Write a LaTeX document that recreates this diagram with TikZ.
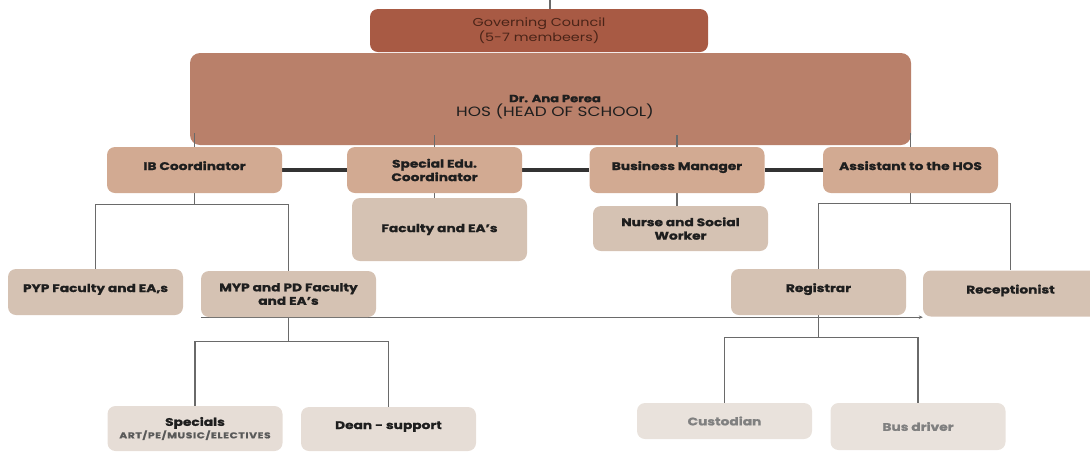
\documentclass[tikz,border=0pt]{standalone}
\usepackage{fontspec}
\setmainfont{Poppins}[FakeStretch=1.25, BoldFeatures={FakeBold=1.2}]
\usetikzlibrary{arrows.meta,backgrounds}
\definecolor{gcfill}{HTML}{A85A44}
\definecolor{hosfill}{HTML}{B9806A}
\definecolor{rowtwo}{HTML}{D2AA92}
\definecolor{rowthree}{HTML}{D5C2B3}
\definecolor{rowfour}{HTML}{E6DDD6}
\definecolor{rowfive}{HTML}{E9E2DC}
\definecolor{txtdark}{HTML}{1E1E1E}
\definecolor{gctext}{HTML}{4A2418}
\definecolor{linegrey}{HTML}{6A6A6A}
\definecolor{thickline}{HTML}{333333}
\tikzset{
  box/.style={rounded corners=8pt, draw=none, align=center, inner sep=2pt,
    font=\bfseries\fontsize{11}{13.5}\selectfont, text=txtdark},
  boxtwo/.style={box, fill=rowtwo, minimum width=175pt, minimum height=46pt},
  boxthree/.style={box, fill=rowthree, minimum width=175pt},
  boxfour/.style={box, fill=rowfour, minimum width=175pt},
  boxfive/.style={box, fill=rowfive, minimum width=175pt, text=black!50},
  conn/.style={draw=linegrey, line width=1.1pt},
  bar/.style={draw=thickline, line width=3.8pt}
}
\begin{document}
\begin{tikzpicture}[x=1pt,y=-1pt]
\useasboundingbox (0,0) rectangle (1090,451);
% top row
\node[box, fill=gcfill, minimum width=338pt, minimum height=43pt,
  font=\fontsize{11.5}{15}\selectfont, text=gctext] (gc) at (539,30.5)
  {Governing Council\\(5-7 membeers)};
\node[box, fill=hosfill, minimum width=721pt, minimum height=92pt, rounded corners=10pt] (hos) at (550.5,99) {};
\node[align=center, font=\fontsize{13.5}{14.5}\selectfont, text=txtdark] (hostext) at (555,107)
  {{\bfseries\fontsize{10.5}{11}\selectfont Dr. Ana Perea}\\HOS (HEAD OF SCHOOL)};
% second row
\node[boxtwo] (ib) at (194.5,170) {\smash{IB Coordinator}};
\node[boxtwo] (sped) at (434.5,170) {Special Edu.\\Coordinator};
\node[boxtwo] (bm) at (677,170) {\smash{Business Manager}};
\node[boxtwo] (asst) at (910.5,170) {\smash{Assistant to the HOS}};
% third row
\node[boxthree, minimum height=63pt] (fac) at (439.5,229.5) {Faculty and EA's};
\node[boxthree, minimum height=45pt, text depth=-2pt] (nurse) at (680.5,228.5) {Nurse and Social\\Worker};
\node[boxthree, minimum height=46pt] (pyp) at (95.5,292) {\smash{PYP Faculty and EA,s}};
\node[boxthree, minimum height=46pt] (myp) at (288.5,294) {MYP and PD Faculty\\and EA's};
\node[boxthree, minimum height=46pt] (reg) at (818.5,292) {\smash{Registrar}};
\node[boxthree, minimum height=46pt] (rec) at (1010.5,293.5) {\smash{Receptionist}};
% fourth row
\node[boxfour, minimum height=45pt] (spec) at (195,428.5)
  {Specials\\[-1pt]{\fontsize{8.5}{9}\selectfont\addfontfeature{LetterSpace=8}\color{black!65}ART/PE/MUSIC/ELECTIVES}};
\node[boxfour, minimum height=44pt] (dean) at (388.5,429) {\smash{Dean - support}};
\node[boxfive, minimum height=36pt] (cust) at (724.5,421) {Custodian};
\node[boxfive, minimum height=47pt] (bus) at (918,426.5) {Bus driver};
% connectors
\coordinate (topend) at (550,0);
\begin{scope}[on background layer]
  \draw[bar] (ib.east) -- (sped.west);
  \draw[bar] (sped.east) -- (bm.west);
  \draw[bar] (bm.east) -- (asst.west);
  \draw[conn] (ib.south) -- ++(0,11) -| (pyp.north);
  \draw[conn] (ib.south) ++(0,11) -| (myp.north);
  \draw[conn] (sped.south) -- (sped.south |- fac.north);
  \draw[conn] (bm.south) -- (bm.south |- nurse.north);
  \draw[conn] (asst.south) -- ++(0,10) -| (reg.north);
  \draw[conn] (asst.south) ++(0,10) -| (rec.north);
  \draw[conn] (myp.south) -- ++(0,24) -| (spec.north);
  \draw[conn] (myp.south) ++(0,24) -| (dean.north);
  \draw[conn] (reg.south) -- ++(0,22) -| (cust.north);
  \draw[conn] (reg.south) ++(0,22) -| (bus.north);
  \draw[conn, -{Stealth[length=4pt,width=3.5pt]}] (myp.south west) -- (myp.south west -| rec.west);
\end{scope}
\draw[conn] (topend) -- (topend |- gc.north);
\draw[conn] (ib.north) -- ++(0,-14);
\draw[conn] (sped.north) -- ++(0,-12);
\draw[conn] (bm.north) -- ++(0,-12);
\draw[conn] (asst.north) -- ++(0,-14);
\end{tikzpicture}
\end{document}
